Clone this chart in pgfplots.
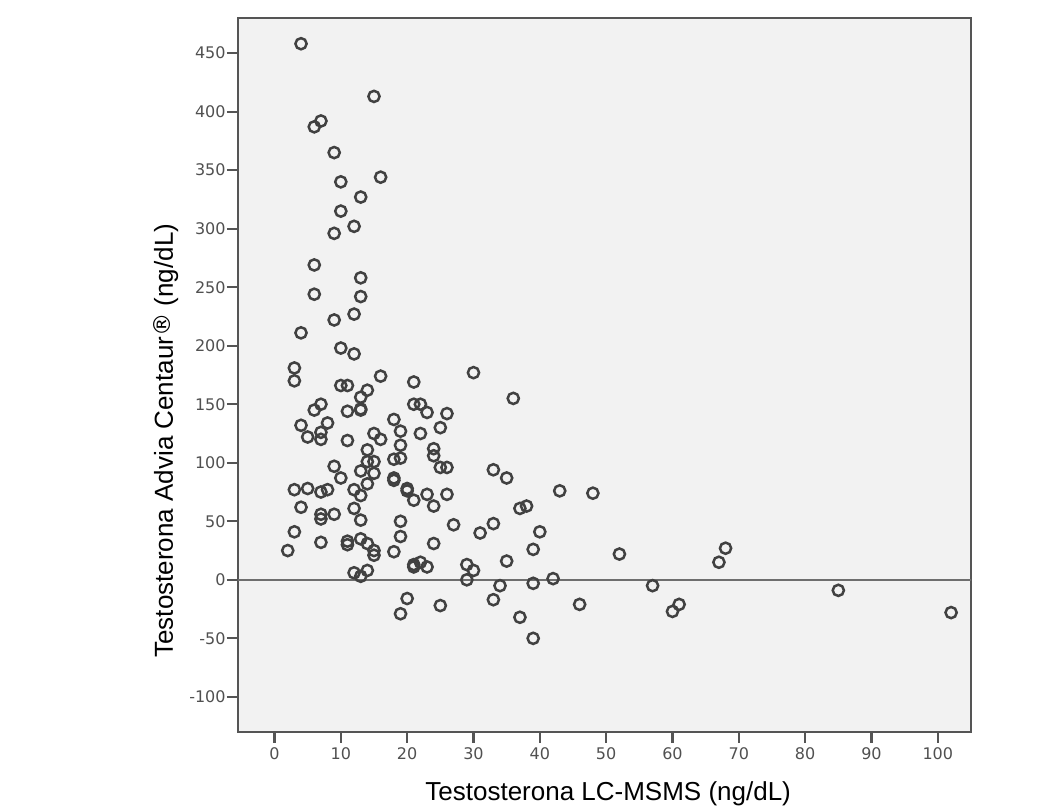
\documentclass[border=0pt]{standalone}
\usepackage{pgfplots}
\pgfplotsset{compat=1.18}
\usepackage{fontspec}
\setmainfont{Liberation Sans}
\newfontfamily\dv{DejaVu Sans}
\definecolor{bgc}{RGB}{242,242,242}
\definecolor{axc}{RGB}{85,85,85}
\definecolor{tkc}{RGB}{80,80,80}
\definecolor{mkc}{RGB}{65,65,65}
\definecolor{zlc}{RGB}{110,110,110}
\begin{document}
\begin{tikzpicture}
\begin{axis}[
  scale only axis,
  width=366.5pt, height=357pt,
  xmin=-5.5, xmax=105, ymin=-130, ymax=480,
  xtick={0,10,...,100},
  ytick={-100,-50,...,450},
  xtick pos=bottom, ytick pos=left,
  tick align=outside,
  major tick length=5.5pt,
  tick style={line width=1.1pt, color=axc},
  axis line style={line width=1.1pt, color=axc},
  axis background/.style={fill=bgc},
  /pgf/number format/assume math mode=true,
  ticklabel style={font=\dv\fontsize{8}{9}\selectfont, text=tkc},
  yticklabel style={inner sep=0.5pt},
  xticklabel style={inner sep=2pt},
  xlabel={Testosterona LC-MSMS (ng/dL)},
  ylabel={Testosterona Advia Centaur{\dv\raisebox{0.15ex}{\scalebox{0.9}{®}}} (ng/dL)},
  label style={font=\fontsize{13}{15}\selectfont, text=black},
  xlabel style={at={([yshift=-31pt]axis description cs:0.505,0)}, anchor=center},
  ylabel style={at={([xshift=-36pt]axis description cs:0,0.408)}, anchor=center},
]
\addplot[zlc, line width=1.1pt, forget plot] coordinates {(-10,0) (110,0)};
\addplot[only marks, mark=o, mark size=2.8pt, mark options={line width=1.25pt, draw=mkc}] coordinates {
(4,458) (15,413) (7,392) (6,387) (9,365) (16,344) (10,340) (13,327) (10,315)
(12,302) (9,296) (6,269) (13,258) (6,244) (13,242) (12,227) (9,222) (4,211)
(10,198) (12,193) (3,181) (3,170) (16,174) (21,169) (30,177) (10,166) (11,166)
(14,162) (13,156) (36,155) (7,150) (6,145) (11,144) (13,145) (13,146) (21,150)
(22,150) (23,143) (26,142) (4,132) (8,134) (5,122) (7,126) (7,120) (18,137)
(19,127) (22,125) (25,130) (11,119) (15,125) (16,120) (14,111) (19,115) (24,112)
(24,106) (18,103) (19,104) (14,101) (15,101) (9,97) (13,93) (15,91) (25,96)
(26,96) (33,94) (35,87) (10,87) (18,87) (18,85) (14,82) (20,78) (20,76)
(21,68) (23,73) (26,73) (24,63) (43,76) (48,74) (37,61) (38,63) (3,77)
(5,78) (7,75) (8,77) (12,77) (13,72) (4,62) (12,61) (7,56) (7,52)
(9,56) (13,51) (19,50) (27,47) (33,48) (31,40) (40,41) (3,41) (19,37)
(7,32) (11,33) (11,30) (13,35) (14,31) (15,25) (15,21) (24,31) (39,26)
(35,16) (52,22) (2,25) (18,24) (21,13) (22,15) (21,11) (23,11) (12,6)
(13,3) (14,8) (29,13) (30,8) (29,0) (34,-5) (39,-3) (42,1) (20,-16)
(25,-22) (33,-17) (46,-21) (37,-32) (19,-29) (39,-50) (57,-5) (61,-21) (60,-27)
(67,15) (68,27) (85,-9) (102,-28)
};
\end{axis}
\pgfresetboundingbox
\useasboundingbox ([xshift=-119pt,yshift=-38pt]current axis.south west) rectangle ([xshift=45.5pt,yshift=9pt]current axis.north east);
\end{tikzpicture}
\end{document}
